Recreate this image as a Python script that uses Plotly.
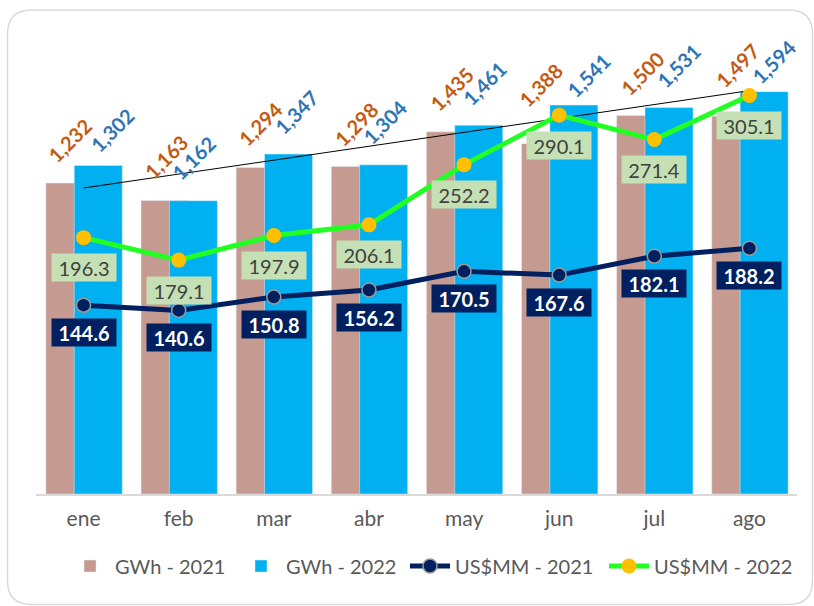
import numpy as np
import plotly.graph_objects as go

months = ["ene", "feb", "mar", "abr", "may", "jun", "jul", "ago"]
gwh_2021 = [1232, 1163, 1294, 1298, 1435, 1388, 1500, 1497]
gwh_2022 = [1302, 1162, 1347, 1304, 1461, 1541, 1531, 1594]
usd_2021 = [144.6, 140.6, 150.8, 156.2, 170.5, 167.6, 182.1, 188.2]
usd_2022 = [196.3, 179.1, 197.9, 206.1, 252.2, 290.1, 271.4, 305.1]

# label placement offsets (pixels) for the rotated GWh labels
lab21_dx = [0, 1, 0, 1, 1, -5, 2, 2]
lab21_dy = [43, 43, 43, 42, 43, 59, 42, 51]
lab22_dx = [14, 0, 8, 1, 6, 15, 9, 9]
lab22_dy = [35, 43, 42, 43, 42, 30, 42, 30]

W, H = 814, 606
ML, MR, MT, MB = 36, 17, 39, 112
PW, PH = W - ML - MR, H - MT - MB

C_BROWN = "#C49A91"
C_BLUE = "#00B0F0"
C_NAVY = "#002060"
C_GREEN = "#22FF22"
C_GOLD = "#FFC000"
C_ORANGE_TXT = "#C55A11"
C_BLUE_TXT = "#2E75B6"
FONT = "Lato"

xi = list(range(len(months)))
bw = 0.505

fig = go.Figure()
fig.add_trace(go.Bar(x=xi, y=gwh_2021, name="GWh - 2021", marker_color=C_BROWN,
                     width=bw, offset=-0.396, yaxis="y", legend="legend"))
fig.add_trace(go.Bar(x=xi, y=gwh_2022, name="GWh - 2022", marker_color=C_BLUE,
                     width=bw, offset=-0.098, yaxis="y", legend="legend2"))

# linear trendline of GWh 2022
coef = np.polyfit(xi, gwh_2022, 1)
trend = [float(np.polyval(coef, v)) for v in xi]
fig.add_trace(go.Scatter(x=[xi[0], xi[-1]], y=[trend[0], trend[-1]], mode="lines",
                         line=dict(color="black", width=1), showlegend=False,
                         hoverinfo="skip", yaxis="y"))

fig.add_trace(go.Scatter(x=xi, y=usd_2021, name="US$MM - 2021", mode="lines+markers",
                         line=dict(color=C_NAVY, width=5),
                         marker=dict(size=14, color=C_NAVY, line=dict(color="#9A9A9A", width=1.5)),
                         yaxis="y2", legend="legend3"))
fig.add_trace(go.Scatter(x=xi, y=usd_2022, name="US$MM - 2022", mode="lines+markers",
                         line=dict(color=C_GREEN, width=5),
                         marker=dict(size=15, color=C_GOLD),
                         yaxis="y2", legend="legend4"))

ann = []
b21c = -0.396 + bw / 2
b22c = -0.098 + bw / 2
for i in xi:
    ann.append(dict(x=i + b21c, y=gwh_2021[i], xref="x", yref="y", text=f"<b>{gwh_2021[i]:,}</b>",
                    showarrow=False, textangle=-45, xshift=lab21_dx[i], yshift=lab21_dy[i],
                    xanchor="center", yanchor="middle",
                    font=dict(family=FONT, size=20, color=C_ORANGE_TXT)))
    ann.append(dict(x=i + b22c, y=gwh_2022[i], xref="x", yref="y", text=f"<b>{gwh_2022[i]:,}</b>",
                    showarrow=False, textangle=-45, xshift=lab22_dx[i], yshift=lab22_dy[i],
                    xanchor="center", yanchor="middle",
                    font=dict(family=FONT, size=20, color=C_BLUE_TXT)))
    ann.append(dict(x=i, y=usd_2021[i], xref="x", yref="y2", text=f"<b>{usd_2021[i]:.1f}</b>",
                    showarrow=False, yshift=-27, xanchor="center", yanchor="middle",
                    bgcolor=C_NAVY, width=60, height=23, borderpad=2,
                    font=dict(family=FONT, size=20, color="white")))
    ann.append(dict(x=i, y=usd_2022[i], xref="x", yref="y2", text=f"{usd_2022[i]:.1f}",
                    showarrow=False, yshift=-30, xanchor="center", yanchor="middle",
                    bgcolor="#C5E0B4", width=60, height=23, borderpad=2,
                    font=dict(family=FONT, size=20, color="#404040")))

# rounded outer border (pixel -> paper)
def px(x):
    return (x - ML) / PW
def py(y):
    return (H - MB - y) / PH
x0, y0, x1, y1, r = 7.5, 10, 812.5, 604.5, 24
path = (f"M {px(x0)},{py(y0 + r)} Q {px(x0)},{py(y0)} {px(x0 + r)},{py(y0)} "
        f"L {px(x1 - r)},{py(y0)} Q {px(x1)},{py(y0)} {px(x1)},{py(y0 + r)} "
        f"L {px(x1)},{py(y1 - r)} Q {px(x1)},{py(y1)} {px(x1 - r)},{py(y1)} "
        f"L {px(x0 + r)},{py(y1)} Q {px(x0)},{py(y1)} {px(x0)},{py(y1 - r)} Z")

leg_y = py(566)
def leg(text_x):
    return dict(orientation="h", x=px(text_x - 50), xanchor="left", y=leg_y, yanchor="middle",
                font=dict(size=20, color="#595959", family=FONT), itemwidth=40,
                bgcolor="rgba(0,0,0,0)")

fig.update_layout(
    width=W, height=H,
    margin=dict(l=ML, r=MR, t=MT, b=MB),
    paper_bgcolor="white", plot_bgcolor="white",
    barmode="overlay",
    font=dict(family=FONT, color="#595959"),
    xaxis=dict(tickmode="array", tickvals=xi, ticktext=months, range=[-0.5, 7.5],
               showline=True, linecolor="#D9D9D9", linewidth=1.5, showgrid=False,
               zeroline=False, ticks="", tickfont=dict(size=21, color="#595959"),
               ticklabelstandoff=5),
    yaxis=dict(range=[0, PH / 0.2524], visible=False, showgrid=False),
    yaxis2=dict(range=[0, PH / 1.306], overlaying="y", side="right", visible=False,
                showgrid=False),
    legend=leg(115),
    legend2=leg(286),
    legend3=leg(455),
    legend4=leg(654),
    annotations=ann,
    shapes=[dict(type="path", path=path, xref="paper", yref="paper",
                 line=dict(color="#D9D9D9", width=1.5), layer="below")],
    showlegend=True,
)

fig.write_html("out.html", config={"displayModeBar": False},
               post_script="document.body.style.margin='0px';")
